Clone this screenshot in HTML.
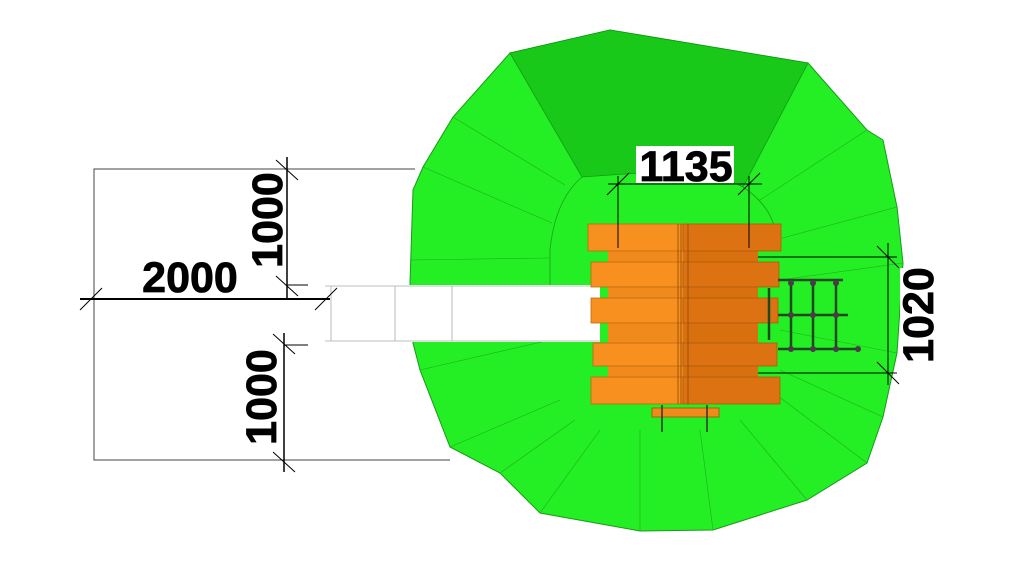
<!DOCTYPE html>
<html><head><meta charset="utf-8"><style>
html,body{margin:0;padding:0;background:#fff;}
svg{display:block;}
text{font-family:"Liberation Sans",sans-serif;font-weight:bold;fill:#000;stroke:#000;stroke-width:0.8;}
</style></head><body>
<svg width="1024" height="576" viewBox="0 0 1024 576" xmlns="http://www.w3.org/2000/svg">
<rect width="1024" height="576" fill="#fff"/>
<polygon points="510,53 610,30 808,63 867,130 883,140 897,207 903,263 897,353 883,417 867,463 807,500 713,530 640,531 540,513 500,473 450,447 420,370 413,343 410,283 413,190 423,167 453,117" fill="#24ee24" stroke="#1a9a1a" stroke-width="1"/>
<polygon points="510,53 610,30 808,63 743,187 720,176 683,172 640,173 582,177" fill="#19c919" stroke="#139a13" stroke-width="0.8"/>
<path d="M582,177 Q555,200 550,250 L550,285 M743,187 Q770,205 775,230" fill="none" stroke="#1aa01a" stroke-width="0.8"/>
<g stroke="#1bb01b" stroke-width="0.6" fill="none">
<line x1="453" y1="117" x2="565" y2="185"/>
<line x1="423" y1="167" x2="552" y2="223"/>
<line x1="410" y1="260" x2="550" y2="258"/>
<line x1="420" y1="370" x2="550" y2="340"/>
<line x1="450" y1="447" x2="560" y2="400"/>
<line x1="500" y1="473" x2="575" y2="420"/>
<line x1="540" y1="513" x2="600" y2="430"/>
<line x1="640" y1="531" x2="640" y2="430"/>
<line x1="713" y1="530" x2="700" y2="430"/>
<line x1="807" y1="500" x2="740" y2="420"/>
<line x1="867" y1="463" x2="770" y2="390"/>
<line x1="883" y1="417" x2="780" y2="370"/>
<line x1="897" y1="353" x2="780" y2="330"/>
<line x1="903" y1="263" x2="780" y2="280"/>
<line x1="897" y1="207" x2="775" y2="240"/>
<line x1="867" y1="130" x2="760" y2="200"/>
</g>
<rect x="325" y="285" width="275" height="57" fill="#fff"/>
<g stroke="#aaa" stroke-width="0.8" fill="none">
<line x1="325" y1="286" x2="600" y2="286"/>
<line x1="325" y1="341" x2="600" y2="341"/>
<line x1="331" y1="286" x2="331" y2="341"/>
<line x1="395" y1="286" x2="395" y2="341"/>
<line x1="452" y1="286" x2="452" y2="341"/>
</g>
<rect x="608" y="250" width="150" height="130" fill="#f08a1c"/>
<rect x="683" y="250" width="75" height="130" fill="#d8700f"/>
<g fill="#f7901e" stroke="#c06a10" stroke-width="0.8">
<rect x="588" y="224" width="95" height="27"/>
<rect x="591" y="262" width="92" height="25"/>
<rect x="591" y="298" width="92" height="25"/>
<rect x="593" y="343" width="90" height="23"/>
<rect x="591" y="377" width="92" height="27"/>
</g>
<g fill="#dc7212" stroke="#b05a0c" stroke-width="0.8">
<rect x="683" y="224" width="98" height="27"/>
<rect x="683" y="262" width="96" height="25"/>
<rect x="683" y="298" width="95" height="25"/>
<rect x="683" y="343" width="94" height="23"/>
<rect x="683" y="377" width="97" height="27"/>
</g>
<g stroke="#8a4a08" stroke-width="0.8">
<line x1="678" y1="224" x2="678" y2="404"/>
<line x1="681" y1="224" x2="681" y2="404"/>
<line x1="688" y1="224" x2="688" y2="404"/>
</g>
<rect x="652" y="408" width="67" height="9" fill="#f08a1c" stroke="#a0520a" stroke-width="0.8"/>
<line x1="662" y1="405" x2="662" y2="432" stroke="#333" stroke-width="1.5"/>
<line x1="707" y1="405" x2="707" y2="432" stroke="#333" stroke-width="1.5"/>
<g stroke="#1f4a1f" stroke-width="2.5" fill="none">
<line x1="778" y1="280" x2="843" y2="280"/>
<line x1="778" y1="315" x2="848" y2="315"/>
<line x1="778" y1="349" x2="860" y2="349"/>
<line x1="791" y1="280" x2="791" y2="349"/>
<line x1="813" y1="280" x2="813" y2="349"/>
<line x1="836" y1="280" x2="836" y2="349"/>
<line x1="769" y1="288" x2="769" y2="340"/>
</g>
<g fill="#4a3a4a">
<circle cx="791" cy="283" r="3"/><circle cx="813" cy="283" r="3"/><circle cx="836" cy="283" r="3"/>
<circle cx="791" cy="315" r="3"/><circle cx="813" cy="315" r="3"/><circle cx="836" cy="315" r="3"/>
<circle cx="791" cy="349" r="3"/><circle cx="813" cy="349" r="3"/><circle cx="836" cy="349" r="3"/>
<circle cx="858" cy="349" r="3"/>
</g>
<g stroke="#000" stroke-width="1" fill="none">
<polyline points="415,169 94,169 94,460 450,460" stroke="#444"/>
<line x1="80" y1="299" x2="330" y2="299" stroke-width="2"/>
<line x1="287" y1="157" x2="287" y2="299" stroke-width="1.5"/>
<line x1="284" y1="333" x2="284" y2="472" stroke-width="1.5"/>
<line x1="287" y1="285" x2="308" y2="285"/>
<line x1="284" y1="345" x2="308" y2="345"/>
<line x1="80" y1="310" x2="102" y2="288"/>
<line x1="315" y1="310" x2="337" y2="288"/>
<line x1="276" y1="160" x2="298" y2="180"/>
<line x1="276" y1="276" x2="298" y2="296"/>
<line x1="273" y1="334" x2="295" y2="354"/>
<line x1="273" y1="452" x2="295" y2="472"/>
<line x1="608" y1="184" x2="762" y2="184"/>
<line x1="618" y1="176" x2="618" y2="248"/>
<line x1="749" y1="176" x2="749" y2="248"/>
<line x1="607" y1="195" x2="629" y2="173"/>
<line x1="738" y1="195" x2="760" y2="173"/>
<line x1="758" y1="257" x2="897" y2="257"/>
<line x1="758" y1="373" x2="897" y2="373"/>
<line x1="888" y1="243" x2="888" y2="385"/>
<line x1="877" y1="246" x2="899" y2="268"/>
<line x1="877" y1="362" x2="899" y2="384"/>
</g>
<text x="190" y="292" font-size="43" text-anchor="middle">2000</text>
<text transform="translate(282,220) rotate(-90)" font-size="43" text-anchor="middle">1000</text>
<text transform="translate(276,397) rotate(-90)" font-size="43" text-anchor="middle">1000</text>
<rect x="636" y="146" width="98" height="37" fill="#fff"/>
<text x="686" y="181" font-size="43" text-anchor="middle">1135</text>
<rect x="900" y="268" width="35" height="92" fill="#fff"/>
<text transform="translate(933,315) rotate(-90)" font-size="43" text-anchor="middle">1020</text>
</svg>
</body></html>
